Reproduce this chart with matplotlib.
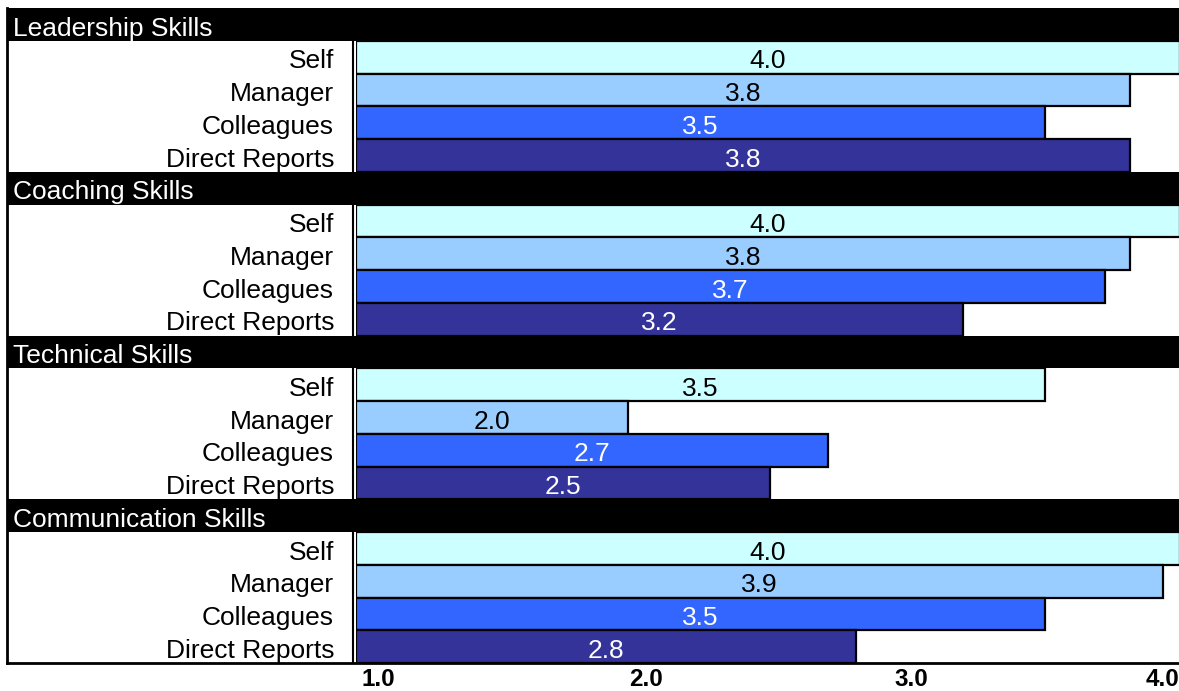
import matplotlib
matplotlib.use("Agg")
import matplotlib.pyplot as plt
from matplotlib.patches import Rectangle
from matplotlib.lines import Line2D
from matplotlib.transforms import blended_transform_factory

plt.rcParams['font.family'] = ['Liberation Sans', 'DejaVu Sans']

groups = ['Leadership Skills', 'Coaching Skills', 'Technical Skills', 'Communication Skills']
raters = ['Self', 'Manager', 'Colleagues', 'Direct Reports']
scores = [
    [4.0, 3.82, 3.51, 3.82],
    [4.0, 3.82, 3.73, 3.21],
    [3.51, 1.99, 2.72, 2.51],
    [4.0, 3.94, 3.51, 2.82],
]
bar_colors = ['#CCFFFF', '#99CCFF', '#3366FF', '#333399']
text_colors = ['black', 'black', 'white', 'white']
xticks = [1, 2, 3, 4]
tick_offsets = [22, 15, 6, -17]   # label shift in pixels, as in the original

W, H = 1179, 691
fig = plt.figure(figsize=(W / 100, H / 100), dpi=100)
ax = fig.add_axes([356 / W, (H - 663) / H, (1179.5 - 356) / W, (663 - 8) / H])
ax.set_xlim(1, 4)
ax.set_ylim(20, 0)
ax.axis('off')

fx = blended_transform_factory(fig.transFigure, ax.transData)
fs = 19

for g, name in enumerate(groups):
    r = g * 5
    # black header row
    ax.add_patch(Rectangle((8 / W, r), (W - 8) / W, 1, transform=fx,
                           facecolor='black', edgecolor='none', clip_on=False, zorder=3))
    ax.text(13 / W, r + 0.55, name, transform=fx, color='white', fontsize=fs,
            va='center_baseline', ha='left', zorder=4)
    for i, rater in enumerate(raters):
        y = r + 1 + i + 0.5
        v = scores[g][i]
        ax.barh(y, v - 1, left=1, height=1, color=bar_colors[i],
                edgecolor='black', linewidth=1.6, zorder=2)
        ax.text((1 + v) / 2, y + 0.05, f'{v:.1f}', color=text_colors[i], fontsize=fs,
                ha='center', va='center_baseline', zorder=4)
        ax.text(334 / W, y + 0.05, rater, transform=fx, fontsize=fs,
                ha='right', va='center_baseline', zorder=4)

# frame of the label column and bottom line
fig.add_artist(Line2D([7 / W, 7 / W], [(H - 663) / H, (H - 8) / H], color='black', lw=2))
fig.add_artist(Line2D([353 / W, 353 / W], [(H - 663) / H, (H - 42) / H], color='black', lw=1.5))
fig.add_artist(Line2D([7 / W, 1.0], [(H - 663) / H, (H - 663) / H], color='black', lw=2))

for t, off in zip(xticks, tick_offsets):
    ax.annotate(f'{t:.1f}', xy=(t, 20), xytext=(off, -17), textcoords='offset pixels',
                ha='center', va='center', fontsize=17.5, fontweight='bold',
                annotation_clip=False)

fig.savefig('out.png', dpi=100)
